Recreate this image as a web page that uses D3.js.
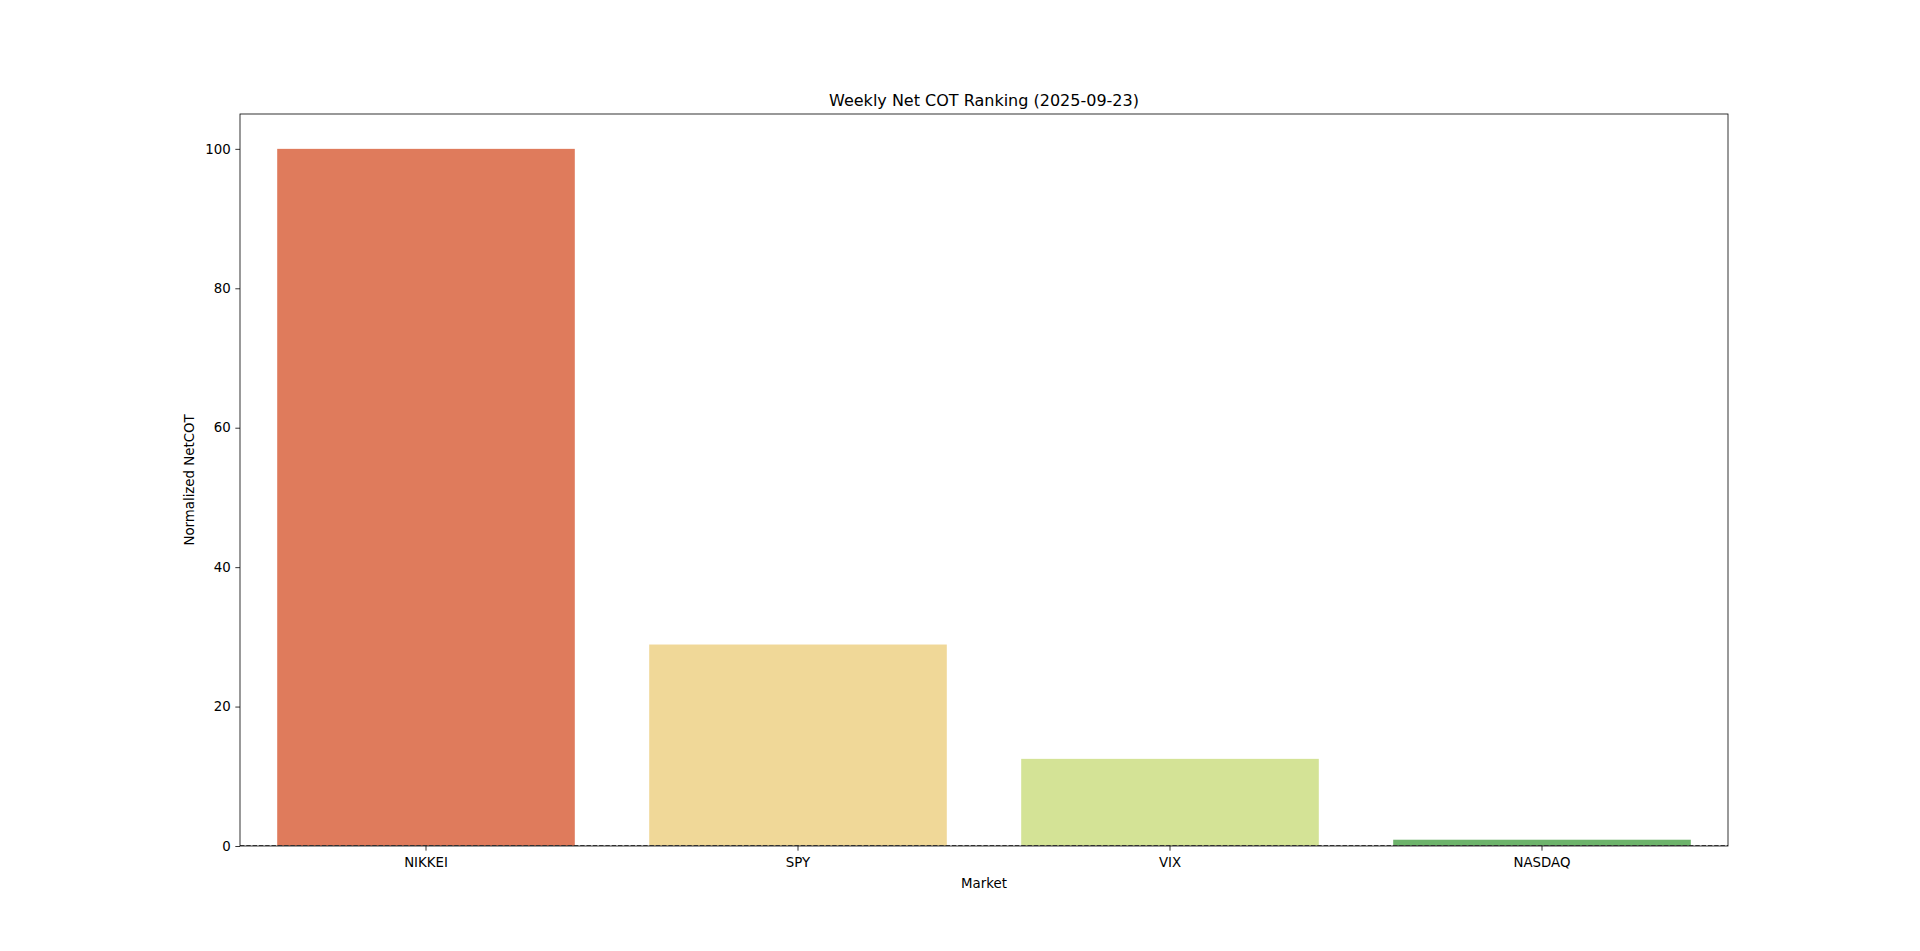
<!DOCTYPE html>
<html>
<head>
<meta charset="utf-8">
<script src="https://cdn.jsdelivr.net/npm/d3@7"></script>
<style>
  html, body { margin: 0; padding: 0; background: #fff; }
  svg { display: block; }
  text { font-family: "DejaVu Sans", sans-serif; fill: #000; }
</style>
</head>
<body>
<script>
const markets = ["NIKKEI", "SPY", "VIX", "NASDAQ"];
const netCot = [100, 28.9, 12.5, 0.9];
const barColors = ["#df7b5c", "#f0d898", "#d4e396", "#6db36b"];
const yTicks = [0, 20, 40, 60, 80, 100];
const titleText = "Weekly Net COT Ranking (2025-09-23)";
const xLabel = "Market";
const yLabel = "Normalized NetCOT";

const W = 1920, H = 951;
const m = { left: 240, right: 1728, top: 114, bottom: 846 };

const svg = d3.select("body").append("svg").attr("width", W).attr("height", H);

const x = d3.scaleBand().domain(markets).range([m.left, m.right]).paddingInner(0.2).paddingOuter(0.1);
const y = d3.scaleLinear().domain([0, 105]).range([m.bottom, m.top]);

const data = markets.map((k, i) => ({ k, v: netCot[i], c: barColors[i] }));

svg.selectAll("rect.bar").data(data).enter().append("rect")
  .attr("class", "bar")
  .attr("x", d => x(d.k))
  .attr("width", x.bandwidth())
  .attr("y", d => y(d.v))
  .attr("height", d => y(0) - y(d.v))
  .attr("fill", d => d.c);

// dashed zero line
svg.append("line")
  .attr("x1", m.left).attr("x2", m.right)
  .attr("y1", y(0) - 0.5).attr("y2", y(0) - 0.5)
  .attr("stroke", "#505050").attr("stroke-width", 1.2)
  .attr("stroke-dasharray", "4.4,1.9");

// axes
const xAxis = d3.axisBottom(x).tickSizeOuter(0).tickSize(4.67).tickPadding(6.5);
const gx = svg.append("g").attr("transform", `translate(0,${m.bottom})`).call(xAxis);
gx.select(".domain").remove();
gx.selectAll("text").attr("font-size", "13.33px").attr("font-family", "DejaVu Sans").attr("fill", "#000");
gx.selectAll("line").attr("stroke", "#000").attr("stroke-width", 0.8);

const yAxis = d3.axisLeft(y).tickValues(yTicks).tickFormat(d3.format("d")).tickSizeOuter(0).tickSize(4.67).tickPadding(4.67);
const gy = svg.append("g").attr("transform", `translate(${m.left},0)`).call(yAxis);
gy.select(".domain").remove();
gy.selectAll("text").attr("font-size", "13.33px").attr("font-family", "DejaVu Sans").attr("fill", "#000");
gy.selectAll("line").attr("stroke", "#000").attr("stroke-width", 0.8);

// frame
svg.append("rect")
  .attr("x", m.left).attr("y", m.top)
  .attr("width", m.right - m.left).attr("height", m.bottom - m.top)
  .attr("fill", "none").attr("stroke", "#000").attr("stroke-width", 0.8);

// title
svg.append("text")
  .attr("x", (m.left + m.right) / 2).attr("y", m.top - 8.5)
  .attr("text-anchor", "middle").attr("font-size", "16px")
  .text(titleText);

// axis labels
svg.append("text")
  .attr("x", (m.left + m.right) / 2).attr("y", 888)
  .attr("text-anchor", "middle").attr("font-size", "13.33px")
  .text(xLabel);

svg.append("text")
  .attr("transform", `translate(194,${(m.top + m.bottom) / 2}) rotate(-90)`)
  .attr("text-anchor", "middle").attr("font-size", "13.33px")
  .text(yLabel);
</script>
</body>
</html>
